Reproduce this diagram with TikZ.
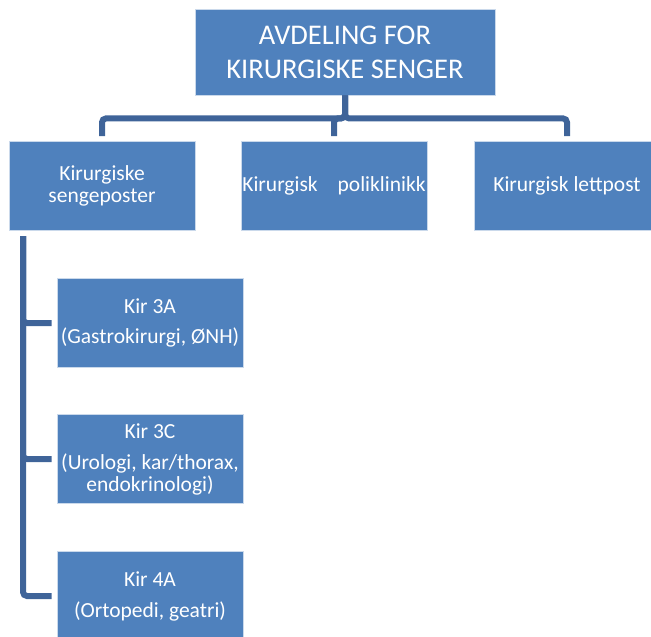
\documentclass[tikz,border=0pt]{standalone}
\usepackage{fontspec}
\setmainfont{Carlito}
\definecolor{orgblue}{RGB}{79,129,189}
\definecolor{orgline}{RGB}{63,100,153}
\tikzset{
  unit/.style={fill=orgblue, draw=white!70!orgblue, line width=0.8pt, text=white, align=center, inner sep=0pt,
    minimum width=186pt, minimum height=89pt, font=\fontsize{21.5}{22}\selectfont},
  link/.style={orgline, line width=6pt, rounded corners=4pt, shorten >=5pt}
}
\begin{document}
\begin{tikzpicture}[x=1pt,y=-1pt]
    \useasboundingbox (0,0) rectangle (651,637);
    
        \node[unit, minimum width=300pt, minimum height=86pt, font=\fontsize{28.5}{34}\selectfont] (avd) at (345,52) {AVDELING FOR\\KIRURGISKE SENGER};
        
        \node[unit] (seng) at (102,186) {Kirurgiske\\sengeposter};
        \node[unit] (poli) at (334,186) {Kirurgisk\hspace{20pt}poliklinikk};
        \node[unit] (lett) at (567,186) {Kirurgisk lettpost};
        
        \node[unit] (k3a) at (150,323) {Kir 3A\\[8pt](Gastrokirurgi, ØNH)};
        \node[unit] (k3c) at (150,459) {Kir 3C\\[9pt](Urologi, kar/thorax,\\endokrinologi)};
        \node[unit] (k4a) at (150,596) {Kir 4A\\[9pt](Ortopedi, geatri)};
        
        \draw[link] (avd.south) -- ++(0,23) -| (seng.north);
        \draw[link] (avd.south) -- ++(0,23) -| (poli.north);
        \draw[link] (avd.south) -- ++(0,23) -| (lett.north);
        
        \coordinate (spine) at (23,236);
        \foreach \k in {k3a,k3c,k4a}
            \draw[link] (spine) |- (\k.west);
        
\end{tikzpicture}
\end{document}
